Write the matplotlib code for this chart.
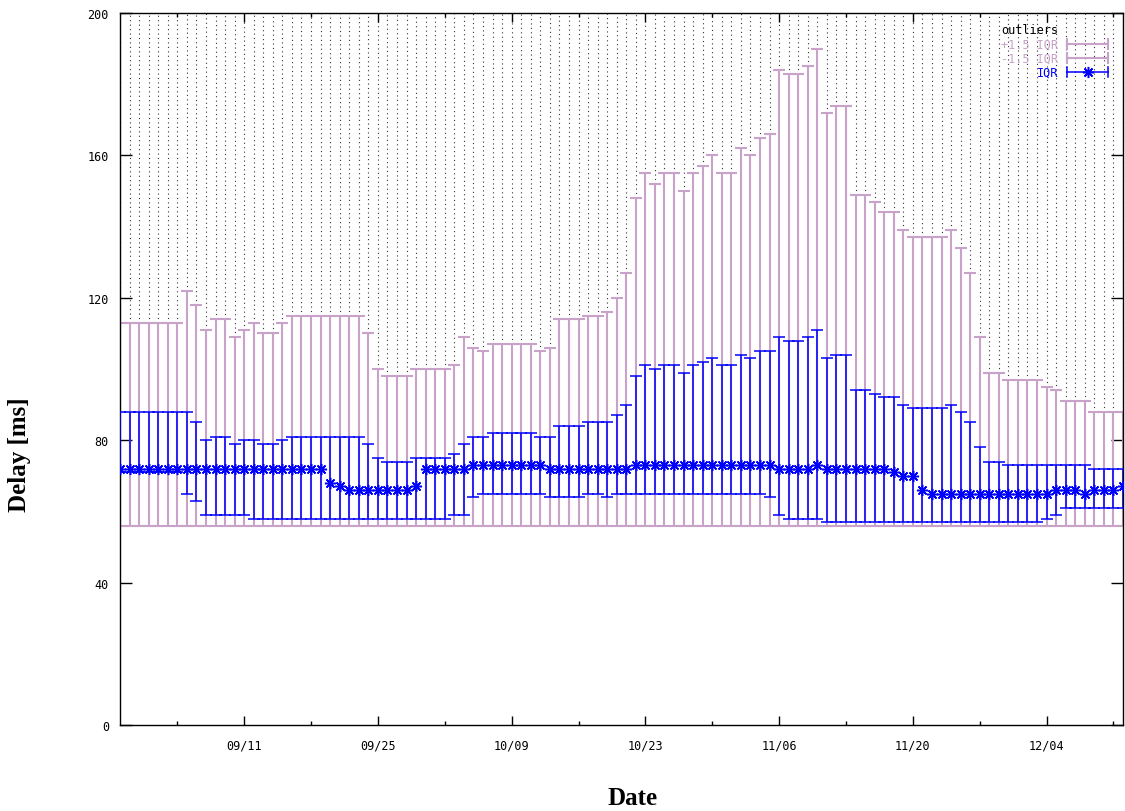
import matplotlib
matplotlib.use("Agg")
import matplotlib.pyplot as plt
import matplotlib.dates as mdates
from matplotlib.lines import Line2D
import numpy as np

# one box per day, 2011-08-29 .. 2011-12-12
days = np.arange(np.datetime64('2011-08-29'), np.datetime64('2011-12-13'))

# upper whisker (+1.5 IQR)
upper = ([113]*7 + [122, 118, 111, 114, 114, 109, 111, 113, 110, 110, 113] + [115]*8 +
         [110, 100, 98, 98, 98, 100, 100, 100, 100, 101, 109, 106, 105] + [107]*5 +
         [105, 106, 114, 114, 114, 115, 115, 116, 120, 127, 148, 155, 152, 155, 155,
          150, 155, 157, 160, 155, 155, 162, 160, 165, 166, 184, 183, 183, 185, 190,
          172, 174, 174, 149, 149, 147, 144, 144, 139, 137, 137, 137, 137, 139, 134,
          127, 109, 99, 99, 97, 97, 97, 97, 95, 94, 91, 91, 91, 88, 88, 88, 88])
# lower whisker (-1.5 IQR)
lower = [56]*106
# third quartile
q3 = ([88]*8 + [85, 80, 81, 81, 79, 80, 80, 79, 79, 80] + [81]*8 +
      [79, 75, 74, 74, 74, 75, 75, 75, 75, 76, 79, 81, 81] + [82]*5 +
      [81, 81, 84, 84, 84, 85, 85, 85, 87, 90, 98, 101, 100, 101, 101, 99, 101, 102,
       103, 101, 101, 104, 103, 105, 105, 109, 108, 108, 109, 111, 103, 104, 104,
       94, 94, 93, 92, 92, 90, 89, 89, 89, 89, 90, 88, 85, 78, 74, 74] + [73]*9 + [72]*4)
# median
median = ([72]*22 + [68, 67] + [66]*7 + [67] + [72]*5 + [73]*8 + [72]*9 + [73]*15 +
          [72]*4 + [73] + [72]*7 + [71, 70, 70, 66] + [65]*13 + [66, 66, 66, 65, 66, 66, 66, 67])
# first quartile
q1 = ([71]*7 + [65, 63] + [59]*5 + [58]*21 + [59, 59, 64] + [65]*7 + [64]*4 +
      [65, 65, 64] + [65]*16 + [64, 59, 58, 58, 58, 58] + [57]*23 + [58, 59] + [61]*7)

upper = np.array(upper); lower = np.array(lower)
q3 = np.array(q3); median = np.array(median); q1 = np.array(q1)

pink = '#c8a2c8'
blue = '#0000ff'

fig = plt.figure(figsize=(11.25, 8.12), dpi=100)
ax = fig.add_axes([120/1125, 1-726/812, (1123-120)/1125, (726-14)/812])

# outliers drawn as dotted columns above the whiskers
ax.vlines(days, upper, 200, colors='#333333', linestyles=(0, (1, 3)), lw=0.8, zorder=1)

# whiskers
ax.errorbar(days, (upper+lower)/2, yerr=(upper-lower)/2, fmt='none', ecolor=pink,
            elinewidth=1.5, capsize=4.5, capthick=1.5, zorder=2)
# IQR box with median
ax.errorbar(days, median, yerr=[median-q1, q3-median], fmt='none', ecolor=blue,
            elinewidth=1.1, capsize=4.5, capthick=1.1, zorder=3)
ax.plot(days, median, ls='none', marker=(8, 2, 0), ms=8, mew=1.1, color=blue, zorder=4)

ax.set_ylim(0, 200)
ax.set_yticks([0, 40, 80, 120, 160, 200])
ax.set_xlim(days[0], days[0] + np.timedelta64(1, 'D')*105.15)
major = np.arange(np.datetime64('2011-09-11'), np.datetime64('2011-12-13'), 14)
minor = np.arange(np.datetime64('2011-09-04'), np.datetime64('2011-12-13'), 14)
ax.set_xticks(major)
ax.set_xticks(minor, minor=True)
ax.xaxis.set_major_formatter(mdates.DateFormatter('%m/%d'))

tickfont = 'DejaVu Sans Mono'
ax.tick_params(axis='both', which='both', direction='in', top=True, right=True,
               labelsize=8.5, width=1, colors='black')
ax.tick_params(axis='x', which='major', length=6.5, pad=10)
ax.tick_params(axis='x', which='minor', length=3)
ax.tick_params(axis='y', which='major', length=8.5, pad=8)
for lab in ax.get_xticklabels() + ax.get_yticklabels():
    lab.set_family(tickfont)
for s in ax.spines.values():
    s.set_linewidth(1)

fig.text(20/1125, 1-455/812, 'Delay [ms]', rotation=90, ha='center', va='center',
         family='Liberation Serif', weight='bold', fontsize=18)
fig.text(633/1125, 1-799/812, 'Date', ha='center', va='center',
         family='Liberation Serif', weight='bold', fontsize=18)

# legend, gnuplot style
entries = [('outliers', 'black', None), ('+1.5 IQR', pink, 'pink'),
           ('-1.5 IQR', pink, 'pink'), ('IQR', blue, 'blue')]
rows = [31, 45, 59, 73]
for (name, col, kind), yp in zip(entries, rows):
    yf = 1 - yp/812
    fig.text(1058/1125, yf, name, ha='right', va='center', color=col,
             family=tickfont, fontsize=8.5)
    if kind is None:
        continue
    x0, x1 = 1067/1125, 1108/1125
    dy = 5/812
    lw = 1.5 if kind == 'pink' else 1.1
    fig.add_artist(Line2D([x0, x1], [yf, yf], color=col, lw=lw, transform=fig.transFigure))
    for xx in (x0, x1):
        fig.add_artist(Line2D([xx, xx], [yf-dy, yf+dy], color=col, lw=lw, transform=fig.transFigure))
    if kind == 'blue':
        fig.add_artist(Line2D([(x0+x1)/2], [yf], color=col, ls='none', marker=(8, 2, 0),
                              ms=8, mew=1.1, transform=fig.transFigure))

fig.savefig('out.png', dpi=100)
